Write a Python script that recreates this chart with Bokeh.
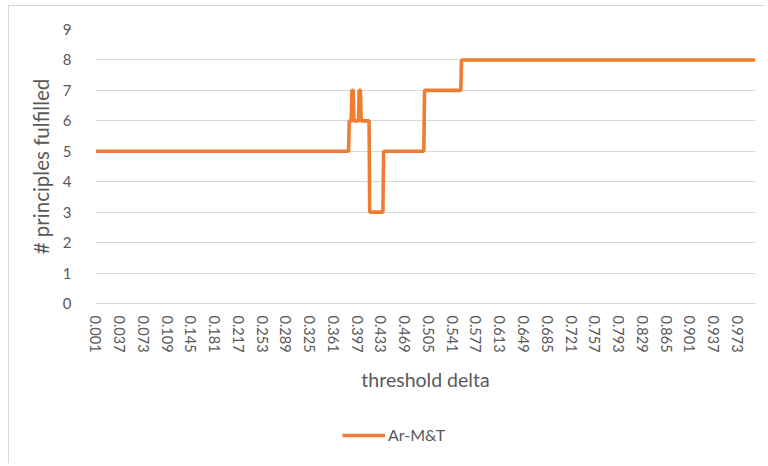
import numpy as np
from bokeh.plotting import figure
from bokeh.layouts import column
from bokeh.models import Range1d, FixedTicker, Legend, LegendItem
from bokeh.embed import file_html
from bokeh.resources import INLINE

# ---- data ----
series_name = "Ar-M&T"
# category axis: threshold delta 0.001 ... 1.000
thresholds = [round(0.001 * i, 3) for i in range(1, 1001)]
# run-length description of the series: value holds from each start threshold onward
seg_start = [0.001, 0.385, 0.389, 0.392, 0.400, 0.403, 0.416, 0.437, 0.499, 0.555]
seg_value = [5, 6, 7, 6, 7, 6, 3, 5, 7, 8]
tick_labels = ["0.001", "0.037", "0.073", "0.109", "0.145", "0.181", "0.217",
               "0.253", "0.289", "0.325", "0.361", "0.397", "0.433", "0.469",
               "0.505", "0.541", "0.577", "0.613", "0.649", "0.685", "0.721",
               "0.757", "0.793", "0.829", "0.865", "0.901", "0.937", "0.973"]
y_ticks = [0, 1, 2, 3, 4, 5, 6, 7, 8, 9]

# build series values from the run-length table
idx = np.searchsorted(np.array(seg_start), np.array(thresholds) + 1e-9, side="right") - 1
principles = [seg_value[i] for i in idx]

FONT = "Lato"
GRAY = "#595959"
GRID = "#D9D9D9"
ORANGE = "#ED7D31"

p = figure(frame_width=660, frame_height=274, output_backend="svg", toolbar_location=None,
           x_range=Range1d(0.0005, 1.0005), y_range=Range1d(0, 9),
           min_border_left=86, min_border_right=10, min_border_top=23,
           min_border_bottom=100)
p.outline_line_color = None
p.background_fill_color = "white"

r = p.line(thresholds, principles, line_color=ORANGE, line_width=3.6)

# y axis
p.yaxis.ticker = FixedTicker(ticks=y_ticks)
p.yaxis.axis_line_color = None
p.yaxis.major_tick_line_color = None
p.yaxis.minor_tick_line_color = None
p.yaxis.major_label_text_font = FONT
p.yaxis.major_label_text_font_size = "15px"
p.yaxis.major_label_text_color = GRAY
p.yaxis.major_label_standoff = 18
p.yaxis.axis_label = "# principles fulfilled"
p.yaxis.axis_label_text_font = FONT
p.yaxis.axis_label_text_font_size = "20.5px"
p.yaxis.axis_label_text_font_style = "normal"
p.yaxis.axis_label_text_color = GRAY
p.yaxis.axis_label_standoff = 7

# x axis
tick_vals = [float(t) for t in tick_labels]
p.xaxis.ticker = FixedTicker(ticks=tick_vals)
p.xaxis.major_label_overrides = {v: s for v, s in zip(tick_vals, tick_labels)}
p.xaxis.major_label_orientation = "vertical"
p.xaxis.axis_line_color = GRID
p.xaxis.major_tick_line_color = None
p.xaxis.minor_tick_line_color = None
p.xaxis.major_label_text_font = FONT
p.xaxis.major_label_text_font_size = "14.5px"
p.xaxis.major_label_text_color = GRAY
p.xaxis.major_label_standoff = 6
p.xaxis.axis_label = "threshold delta"
p.xaxis.axis_label_text_font = FONT
p.xaxis.axis_label_text_font_size = "19.5px"
p.xaxis.axis_label_text_font_style = "normal"
p.xaxis.axis_label_text_color = GRAY
p.xaxis.axis_label_standoff = 12

p.xgrid.grid_line_color = None
p.ygrid.ticker = FixedTicker(ticks=y_ticks)
p.ygrid.grid_line_color = GRID
p.ygrid.grid_line_width = 1

# legend strip underneath the chart (same series, drawn out of view; only its legend shows)
lf = figure(width=756, height=60, output_backend="svg", toolbar_location=None,
            x_axis_type=None, y_axis_type=None, x_range=Range1d(0.0005, 1.0005),
            y_range=Range1d(-20, -19), min_border=0)
lf.outline_line_color = None
lf.grid.grid_line_color = None
lr = lf.line(thresholds, principles, line_color=ORANGE, line_width=3.6)
legend = Legend(items=[LegendItem(label=series_name, renderers=[lr])],
                location=(247, 19), orientation="horizontal",
                glyph_width=43, glyph_height=18, label_standoff=3,
                padding=0, margin=0, border_line_color=None,
                background_fill_alpha=0,
                label_text_font=FONT, label_text_font_size="16px",
                label_text_color=GRAY)
lf.add_layout(legend, "center")

layout = column(p, lf, spacing=0)
layout.styles = {"border-left": "1px solid #D9D9D9", "border-top": "1px solid #D9D9D9",
                 "margin-left": "8px", "margin-top": "5px"}

open("out.html", "w").write(file_html(layout, INLINE))
